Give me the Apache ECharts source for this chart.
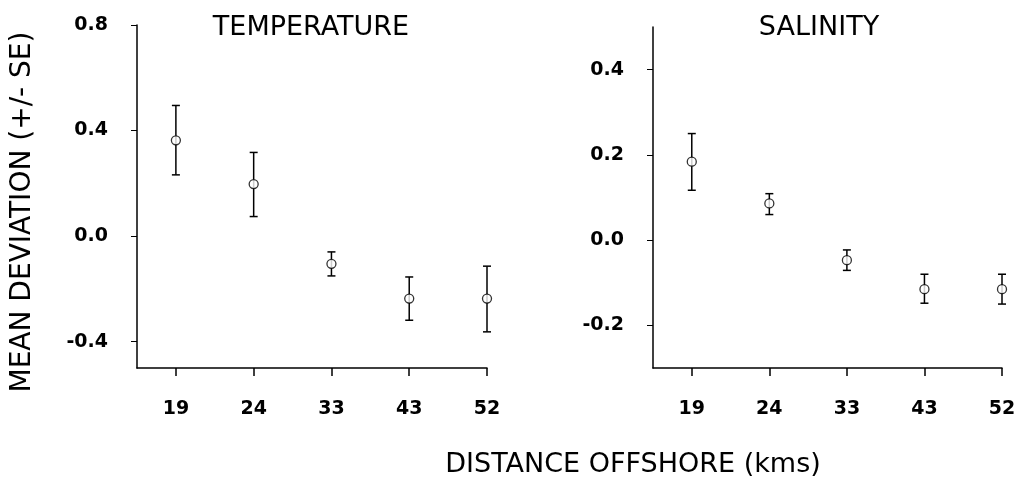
<!DOCTYPE html>
<html>
<head>
<meta charset="utf-8">
<script src="https://cdn.jsdelivr.net/npm/echarts@6/dist/echarts.min.js"></script>
<style>
  html, body { margin: 0; padding: 0; background: #fff; }
  #chart { width: 1026px; height: 491px; }
</style>
</head>
<body>
<div id="chart"></div>
<script>
// distance offshore (kms), plotted evenly spaced
const distances = ["19", "24", "33", "43", "52"];

// temperature: mean deviation and +/- SE bounds
const tempMean = [0.363, 0.197, -0.105, -0.237, -0.237];
const tempLow = [0.232, 0.074, -0.151, -0.319, -0.363];
const tempHigh = [0.495, 0.317, -0.060, -0.155, -0.114];

// salinity: mean deviation and +/- SE bounds
const salMean = [0.184, 0.086, -0.047, -0.115, -0.115];
const salLow = [0.117, 0.060, -0.071, -0.148, -0.150];
const salHigh = [0.250, 0.109, -0.023, -0.080, -0.080];

const tempTicks = [-0.4, 0, 0.4, 0.8];
const salTicks = [-0.2, 0, 0.2, 0.4];

const font = "DejaVu Sans";
const chart = echarts.init(document.getElementById("chart"));

const xAxisFor = (gridIndex) => ({
  type: "value",
  gridIndex,
  min: -0.5,
  max: distances.length - 1,
  splitLine: { show: false },
  axisLine: { onZero: false, lineStyle: { color: "#000", width: 1.5 } },
  axisTick: {
    customValues: distances.map((d, i) => i),
    length: 8,
    lineStyle: { color: "#000", width: 1.5 },
  },
  axisLabel: {
    customValues: distances.map((d, i) => i),
    formatter: (v) => distances[Math.round(v)],
    color: "#000",
    fontFamily: font,
    fontWeight: "bold",
    fontSize: 19,
    margin: 32,
  },
});

const yAxisFor = (gridIndex, min, max, ticks) => ({
  type: "value",
  gridIndex,
  min,
  max,
  splitLine: { show: false },
  axisLine: { show: true, onZero: false, lineStyle: { color: "#000", width: 1.5 } },
  axisTick: {
    show: true,
    customValues: ticks,
    length: 6,
    lineStyle: { color: "#000", width: 1 },
  },
  axisLabel: {
    customValues: ticks,
    formatter: (v) => v.toFixed(1),
    color: "#000",
    fontFamily: font,
    fontWeight: "bold",
    fontSize: 19,
    margin: 29,
  },
});

const errorBars = (low, high, axisIndex) => ({
  type: "custom",
  xAxisIndex: axisIndex,
  yAxisIndex: axisIndex,
  data: low.map((l, i) => [i, l, high[i]]),
  renderItem: (params, api) => {
    const top = api.coord([api.value(0), api.value(2)]);
    const bot = api.coord([api.value(0), api.value(1)]);
    const w = 4;
    const style = { stroke: "#000", lineWidth: 1.5 };
    return {
      type: "group",
      children: [
        { type: "line", shape: { x1: top[0], y1: top[1], x2: bot[0], y2: bot[1] }, style },
        { type: "line", shape: { x1: top[0] - w, y1: top[1], x2: top[0] + w, y2: top[1] }, style },
        { type: "line", shape: { x1: bot[0] - w, y1: bot[1], x2: bot[0] + w, y2: bot[1] }, style },
      ],
    };
  },
  z: 2,
});

const points = (mean, axisIndex) => ({
  type: "scatter",
  xAxisIndex: axisIndex,
  yAxisIndex: axisIndex,
  data: mean.map((m, i) => [i, m]),
  symbol: "circle",
  symbolSize: 9,
  itemStyle: { color: "#fff", borderColor: "#000", borderWidth: 1.3 },
  z: 3,
});

const option = {
  animation: false,
  backgroundColor: "#fff",
  title: [
    {
      text: "TEMPERATURE",
      left: 306,
      top: 9,
      textAlign: "center",
      textStyle: { fontFamily: font, fontWeight: "normal", fontSize: 27, color: "#000" },
    },
    {
      text: "SALINITY",
      left: 814,
      top: 9,
      textAlign: "center",
      textStyle: { fontFamily: font, fontWeight: "normal", fontSize: 27, color: "#000" },
    },
  ],
  grid: [
    { left: 137, top: 25, width: 350, height: 343 },
    { left: 653, top: 27, width: 349, height: 341 },
  ],
  xAxis: [xAxisFor(0), xAxisFor(1)],
  yAxis: [
    yAxisFor(0, -0.5, 0.8, tempTicks),
    yAxisFor(1, -0.3, 0.5, salTicks),
  ],
  graphic: [
    {
      type: "text",
      x: 23,
      y: 212,
      rotation: Math.PI / 2,
      style: {
        text: "MEAN DEVIATION (+/- SE)",
        fontFamily: font,
        fontSize: 28,
        fill: "#000",
        align: "center",
        verticalAlign: "middle",
      },
    },
    {
      type: "text",
      x: 633,
      y: 465,
      style: {
        text: "DISTANCE OFFSHORE (kms)",
        fontFamily: font,
        fontSize: 27,
        fill: "#000",
        align: "center",
        verticalAlign: "middle",
      },
    },
  ],
  series: [
    errorBars(tempLow, tempHigh, 0),
    points(tempMean, 0),
    errorBars(salLow, salHigh, 1),
    points(salMean, 1),
  ],
};

chart.setOption(option);
</script>
</body>
</html>
